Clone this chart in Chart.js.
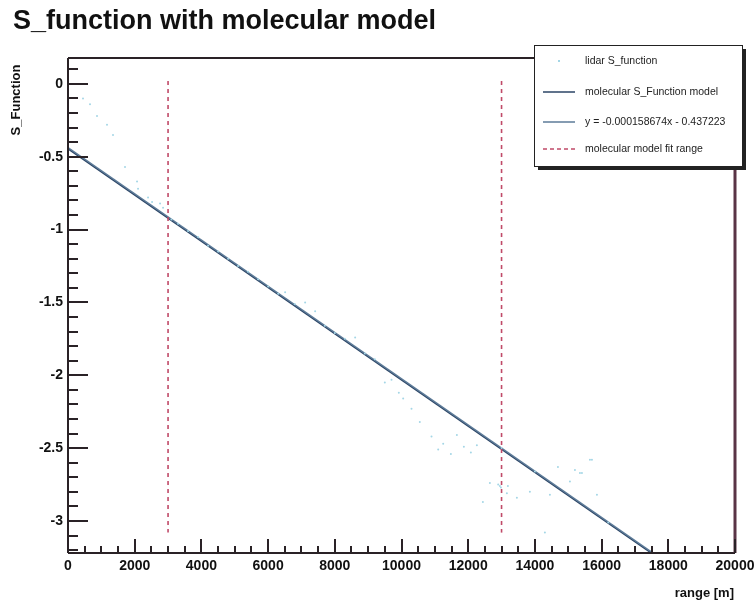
<!DOCTYPE html>
<html>
<head>
<meta charset="utf-8">
<script src="https://cdn.jsdelivr.net/npm/chart.js@4"></script>
<style>
  html, body { margin: 0; padding: 0; background: #fff; }
  #wrap { width: 755px; height: 604px; }
</style>
</head>
<body>
<div id="wrap"><canvas id="chart" width="755" height="604"></canvas></div>
<script>
const chartTitle = 'S_function with molecular model';
const xTitle = 'range [m]';
const yTitle = 'S_Function';

const xTicks = [0, 2000, 4000, 6000, 8000, 10000, 12000, 14000, 16000, 18000, 20000];
const yTicks = [0, -0.5, -1, -1.5, -2, -2.5, -3];

// lidar S_function samples
const lidarX = [450, 660, 870, 1170, 1350, 1710, 2070, 2100, 2400, 2520, 2760, 2850,
  3100, 3300, 3600, 3900, 4200, 4500, 4800, 5100, 5400, 5700, 6000, 6300, 6510, 6800,
  7110, 7410, 7700, 8000, 8300, 8610, 8900, 9200, 9500, 9700, 9920, 10050, 10300, 10550,
  10900, 11100, 11250, 11480, 11660, 11870, 12080, 12260, 12440, 12650, 12900, 12950,
  12980, 13000, 13160, 13190, 13460, 13850, 14000, 14300, 14450, 14690, 15050, 15200,
  15350, 15410, 15650, 15710, 15860, 16200];
const lidarY = [-0.10, -0.14, -0.22, -0.28, -0.35, -0.57, -0.67, -0.72, -0.78, -0.81, -0.82, -0.85,
  -0.93, -0.96, -1.01, -1.05, -1.11, -1.15, -1.20, -1.25, -1.29, -1.34, -1.39, -1.44, -1.43, -1.51,
  -1.50, -1.56, -1.66, -1.71, -1.75, -1.74, -1.85, -1.89, -2.05, -2.03, -2.12, -2.16, -2.23, -2.32,
  -2.42, -2.51, -2.47, -2.54, -2.41, -2.49, -2.53, -2.48, -2.87, -2.74, -2.75, -2.76,
  -2.77, -2.50, -2.81, -2.76, -2.84, -2.80, -2.66, -3.08, -2.82, -2.63, -2.73, -2.65,
  -2.67, -2.67, -2.58, -2.58, -2.82, -3.01];

const modelX = [0, 20000];
const modelY = [-0.445, -3.618];
const fitX = [0, 20000];
const fitY = [-0.437223, -3.610703];
const rangeLowX = [3000, 3000];
const rangeHighX = [13000, 13000];
const rangeY = [0.02, -3.08];

const legendLabels = ['lidar S_function', 'molecular S_Function model',
  'y = -0.000158674x - 0.437223', 'molecular model fit range'];

const colors = {
  lidar: '#a4d6e6',
  model: '#2b4566',
  fit: '#5d7b98',
  range: '#c04a68',
  axis: '#2a2226'
};

function pts(xs, ys) { return xs.map((x, i) => ({ x: x, y: ys[i] })); }

const framePlugin = {
  id: 'frame',
  afterDraw(chart) {
    const ctx = chart.ctx;
    const a = chart.chartArea;
    const xs = chart.scales.x, ys = chart.scales.y;
    ctx.save();

    // title
    ctx.fillStyle = '#111';
    ctx.font = 'bold 27px "Liberation Sans", Arial, sans-serif';
    ctx.textAlign = 'left';
    ctx.textBaseline = 'alphabetic';
    ctx.fillText(chartTitle, 13, 29);

    // frame
    ctx.strokeStyle = colors.axis;
    ctx.lineWidth = 2;
    ctx.beginPath();
    ctx.moveTo(a.left, a.top); ctx.lineTo(a.right, a.top);
    ctx.moveTo(a.left, a.top); ctx.lineTo(a.left, a.bottom);
    ctx.moveTo(a.left, a.bottom); ctx.lineTo(a.right, a.bottom);
    ctx.stroke();
    ctx.strokeStyle = '#5a3446';
    ctx.lineWidth = 3;
    ctx.beginPath();
    ctx.moveTo(a.right, a.top); ctx.lineTo(a.right, a.bottom);
    ctx.stroke();

    // ticks
    ctx.strokeStyle = colors.axis;
    ctx.lineWidth = 2;
    ctx.beginPath();
    for (let v = 0; v <= 20000; v += 500) {
      const px = Math.round(xs.getPixelForValue(v));
      const len = v % 2000 === 0 ? 14 : 7;
      ctx.moveTo(px, a.bottom); ctx.lineTo(px, a.bottom - len);
    }
    for (let k = 1; k >= -32; k--) {
      const v = k / 10;
      const py = Math.round(ys.getPixelForValue(v));
      if (py < a.top || py > a.bottom) continue;
      const len = k % 5 === 0 ? 20 : 10;
      ctx.moveTo(a.left, py); ctx.lineTo(a.left + len, py);
    }
    ctx.stroke();

    // tick labels
    ctx.fillStyle = '#111';
    ctx.font = 'bold 14px "Liberation Sans", Arial, sans-serif';
    ctx.textAlign = 'center';
    ctx.textBaseline = 'middle';
    xTicks.forEach(v => ctx.fillText(String(v), xs.getPixelForValue(v), a.bottom + 13));
    ctx.textAlign = 'right';
    yTicks.forEach(v => ctx.fillText(String(v), a.left - 5, ys.getPixelForValue(v)));

    // axis titles
    ctx.font = 'bold 13px "Liberation Sans", Arial, sans-serif';
    ctx.textAlign = 'right';
    ctx.fillText(xTitle, 734, 593);
    ctx.save();
    ctx.translate(16, 100);
    ctx.rotate(-Math.PI / 2);
    ctx.textAlign = 'center';
    ctx.fillText(yTitle, 0, 0);
    ctx.restore();

    // legend box with shadow
    const lx = 534, ly = 45, lw = 208, lh = 121;
    ctx.fillStyle = '#222';
    ctx.fillRect(lx + 4, ly + 4, lw, lh);
    ctx.fillStyle = '#fff';
    ctx.fillRect(lx, ly, lw, lh);
    ctx.strokeStyle = '#222';
    ctx.lineWidth = 1;
    ctx.strokeRect(lx + 0.5, ly + 0.5, lw, lh);

    const rows = [61, 92, 122, 149];
    ctx.font = '10.5px "Liberation Sans", Arial, sans-serif';
    ctx.textAlign = 'left';
    ctx.fillStyle = '#222';
    legendLabels.forEach((t, i) => ctx.fillText(t, 585, rows[i]));
    ctx.fillStyle = colors.lidar;
    ctx.fillRect(558, rows[0] - 1, 2, 2);
    ctx.lineWidth = 1.5;
    ctx.strokeStyle = colors.model;
    ctx.beginPath(); ctx.moveTo(543, rows[1]); ctx.lineTo(575, rows[1]); ctx.stroke();
    ctx.strokeStyle = colors.fit;
    ctx.beginPath(); ctx.moveTo(543, rows[2]); ctx.lineTo(575, rows[2]); ctx.stroke();
    ctx.strokeStyle = colors.range;
    ctx.setLineDash([4, 3]);
    ctx.beginPath(); ctx.moveTo(543, rows[3]); ctx.lineTo(575, rows[3]); ctx.stroke();
    ctx.restore();
  }
};

new Chart(document.getElementById('chart'), {
  type: 'scatter',
  data: {
    datasets: [
      {
        label: legendLabels[0],
        data: pts(lidarX, lidarY),
        pointRadius: 1,
        pointBorderWidth: 0,
        backgroundColor: colors.lidar
      },
      {
        label: legendLabels[3],
        data: pts(rangeLowX, rangeY),
        showLine: true,
        pointRadius: 0,
        borderColor: colors.range,
        borderWidth: 1.6,
        borderDash: [4, 4]
      },
      {
        label: legendLabels[3],
        data: pts(rangeHighX, rangeY),
        showLine: true,
        pointRadius: 0,
        borderColor: colors.range,
        borderWidth: 1.6,
        borderDash: [4, 4]
      },
      {
        label: legendLabels[2],
        data: pts(fitX, fitY),
        showLine: true,
        pointRadius: 0,
        borderColor: colors.fit,
        borderWidth: 1.5
      },
      {
        label: legendLabels[1],
        data: pts(modelX, modelY),
        showLine: true,
        pointRadius: 0,
        borderColor: colors.model,
        borderWidth: 1.6
      }
    ]
  },
  options: {
    responsive: false,
    animation: false,
    layout: { padding: { left: 68, right: 20, top: 58, bottom: 51 } },
    plugins: { legend: { display: false }, tooltip: { enabled: false } },
    scales: {
      x: { type: 'linear', min: 0, max: 20000, display: false },
      y: { type: 'linear', min: -3.22, max: 0.178, display: false }
    }
  },
  plugins: [framePlugin]
});
</script>
</body>
</html>
